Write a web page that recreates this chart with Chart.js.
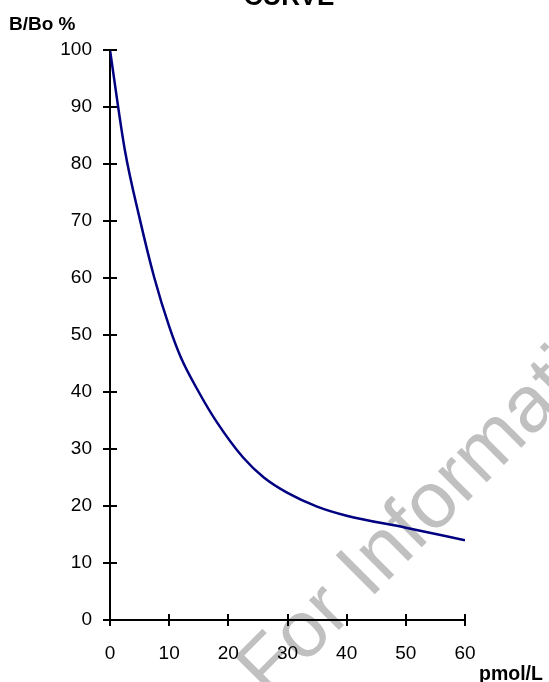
<!DOCTYPE html>
<html>
<head>
<meta charset="utf-8">
<script src="https://cdn.jsdelivr.net/npm/chart.js@4/dist/chart.umd.min.js"></script>
<style>
  html, body { margin: 0; padding: 0; background: #fff; }
  #wrap { position: relative; width: 549px; height: 682px; }
</style>
</head>
<body>
<div id="wrap"><canvas id="chart-canvas"></canvas></div>
<script>
// concentration (pmol/L) and binding (B/Bo %)
const concentration = [0, 2.5, 5, 7.5, 10, 12, 15, 18, 22.5, 26, 30, 35, 40, 50, 60];
const bindingPct = [100, 82.5, 70.5, 60, 51.5, 46, 40, 34.8, 28.5, 25, 22.3, 19.9, 18.3, 16.2, 14];
const xTicks = [0, 10, 20, 30, 40, 50, 60];
const yTicks = [0, 10, 20, 30, 40, 50, 60, 70, 80, 90, 100];

const FONT = "'Liberation Sans', Arial, sans-serif";

// text labels + watermark + inner half of the crossing ticks
const extras = {
  id: "extras",
  beforeDraw(chart) {
    const ctx = chart.ctx;
    ctx.save();
    ctx.translate(269, 700);
    ctx.rotate(-45 * Math.PI / 180);
    ctx.font = "80px " + FONT;
    ctx.fillStyle = "#c0c0c0";
    ctx.textBaseline = "alphabetic";
    ctx.fillText("For Information Only", 0, 0);
    ctx.restore();
  },
  afterDraw(chart) {
    const ctx = chart.ctx;
    const { x, y } = chart.scales;
    const area = chart.chartArea;
    ctx.save();
    ctx.strokeStyle = "#000";
    ctx.lineWidth = 2;
    ctx.beginPath();
    yTicks.forEach((v) => {
      const py = Math.round(y.getPixelForValue(v));
      ctx.moveTo(area.left, py);
      ctx.lineTo(area.left + 7, py);
    });
    xTicks.forEach((v) => {
      const px = Math.round(x.getPixelForValue(v));
      ctx.moveTo(px, area.bottom);
      ctx.lineTo(px, area.bottom - 6);
    });
    ctx.stroke();

    ctx.fillStyle = "#000";
    ctx.textBaseline = "alphabetic";
    ctx.textAlign = "center";
    ctx.font = "bold 26px " + FONT;
    ctx.fillText("CURVE", 289, 5);
    ctx.textAlign = "left";
    ctx.font = "bold 19px " + FONT;
    ctx.fillText("B/Bo %", 9, 30);
    ctx.font = "bold 19.5px " + FONT;
    ctx.fillText("pmol/L", 479, 680);
    ctx.restore();
  },
};

const ctx = document.getElementById("chart-canvas").getContext("2d");
const myChart = new Chart(ctx, {
  type: "line",
  data: {
    datasets: [
      {
        data: concentration.map((c, i) => ({ x: c, y: bindingPct[i] })),
        borderColor: "#000080",
        borderWidth: 2.5,
        pointRadius: 0,
        cubicInterpolationMode: "monotone",
        fill: false,
      },
    ],
  },
  options: {
    responsive: true,
    maintainAspectRatio: false,
    animation: false,
    layout: { padding: { top: 50, right: 84, left: 0, bottom: 0 } },
    plugins: {
      legend: { display: false },
      tooltip: { enabled: false },
      title: { display: false },
    },
    scales: {
      x: {
        type: "linear",
        min: 0,
        max: 60,
        afterBuildTicks: (scale) => { scale.ticks = xTicks.map((v) => ({ value: v })); },
        afterFit: (scale) => { scale.height = 62; },
        grid: { drawOnChartArea: false, drawTicks: true, tickLength: 6, color: "#000", lineWidth: 2 },
        border: { display: true, color: "#000", width: 2 },
        ticks: { color: "#000", font: { family: FONT, size: 19 }, padding: 16, maxRotation: 0 },
      },
      y: {
        type: "linear",
        min: 0,
        max: 100,
        afterBuildTicks: (scale) => { scale.ticks = yTicks.map((v) => ({ value: v })); },
        afterFit: (scale) => { scale.width = 110; },
        grid: { drawOnChartArea: false, drawTicks: true, tickLength: 7, color: "#000", lineWidth: 2 },
        border: { display: true, color: "#000", width: 2 },
        ticks: { color: "#000", font: { family: FONT, size: 19 }, padding: 11 },
      },
    },
  },
  plugins: [extras],
});
</script>
</body>
</html>
